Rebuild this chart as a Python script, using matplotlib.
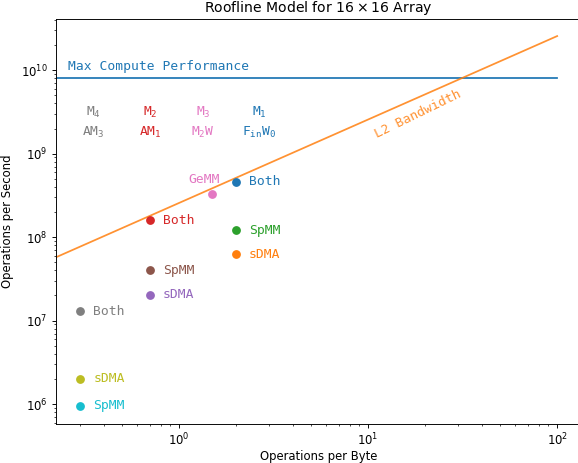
import matplotlib
matplotlib.use("Agg")
import matplotlib.pyplot as plt
import numpy as np

s = 0.84
plt.rcParams.update({
    'mathtext.default': 'regular',
    'font.size': 10 * s,
    'axes.linewidth': 0.8 * s,
    'xtick.major.size': 3.5 * s, 'ytick.major.size': 3.5 * s,
    'xtick.minor.size': 2 * s, 'ytick.minor.size': 2 * s,
    'xtick.major.width': 0.8 * s, 'ytick.major.width': 0.8 * s,
    'xtick.minor.width': 0.6 * s, 'ytick.minor.width': 0.6 * s,
    'xtick.major.pad': 3.5 * s, 'ytick.major.pad': 3.5 * s,
    'axes.titlepad': 6 * s,
})

# Roofline parameters
peak_perf = 8.0e9          # ops/s
l2_bw = 2.56e8             # bytes/s
roof_x = [0.2, 100]

# Points: intensity, performance, label, color
pt_x = [0.3, 0.3, 0.3, 0.7, 0.7, 0.7, 1.5, 2.0, 2.0, 2.0]
pt_y = [1.3e7, 2.0e6, 9.5e5, 1.6e8, 4.0e7, 2.05e7, 3.3e8, 4.6e8, 1.2e8, 6.2e7]
pt_labels = ["Both", "sDMA", "SpMM", "Both", "SpMM", "sDMA", "GeMM", "Both", "SpMM", "sDMA"]
pt_colors = ["#7f7f7f", "#bcbd22", "#17becf", "#d62728", "#8c564b", "#9467bd",
             "#e377c2", "#1f77b4", "#2ca02c", "#ff7f0e"]

# Header (mapping) labels
hdr_x = [0.354, 0.71, 1.34, 2.66]
hdr_top = ["M$_4$", "M$_2$", "M$_3$", "M$_1$"]
hdr_bot = ["AM$_3$", "AM$_1$", "M$_2$W", "F$_{in}$W$_0$"]
hdr_colors = ["#7f7f7f", "#d62728", "#e377c2", "#1f77b4"]

fig = plt.figure(figsize=(5.78, 4.63), dpi=100)
ax = fig.add_axes([56/578, 39/463, 525/578, 405/463])
ax.set_xscale('log')
ax.set_yscale('log')

rx = np.array(roof_x)
ax.plot(rx, [peak_perf]*len(rx), color="#1f77b4", lw=1.5 * s)
ax.plot(rx, l2_bw*rx, color="#ff7f0e", lw=1.5 * s, alpha=0.85)

mono = "DejaVu Sans Mono"
fs = 9.4
ax.text(0.258, 1.1e10, "Max Compute Performance", color="#1f77b4", family=mono,
        fontsize=fs, va='center', ha='left')
ax.text(18.3, 3.0e9, "L2 Bandwidth", color="#ff7f0e", family=mono, fontsize=fs,
        rotation=26, ha='center', va='center', alpha=0.85)

for x, y, lab, c in zip(pt_x, pt_y, pt_labels, pt_colors):
    ax.plot([x], [y], 'o', color=c, markersize=5.3)
    if lab == "GeMM":
        ax.annotate(lab, (x, y), xytext=(-6, 10), textcoords='offset points',
                    color=c, family=mono, fontsize=fs, ha='center', va='center')
    else:
        ax.annotate(lab, (x, y), xytext=(9.5, 0), textcoords='offset points',
                    color=c, family=mono, fontsize=fs, ha='left', va='center')

for x, t, b, c in zip(hdr_x, hdr_top, hdr_bot, hdr_colors):
    ax.text(x, 3.1e9, t, color=c, family=mono, fontsize=fs, ha='center', va='center')
    ax.text(x, 1.8e9, b, color=c, family=mono, fontsize=fs, ha='center', va='center')

ax.set_xlim(0.224, 133.7)
ax.set_ylim(5.77e5, 4.1e10)
ax.set_xlabel("Operations per Byte", labelpad=1.0)
ax.set_ylabel("Operations per Second")
ax.yaxis.set_label_coords(-0.08, 0.5)
ax.set_title("Roofline Model for $16 \\times 16$ Array")

fig.savefig("out.png", dpi=100)
